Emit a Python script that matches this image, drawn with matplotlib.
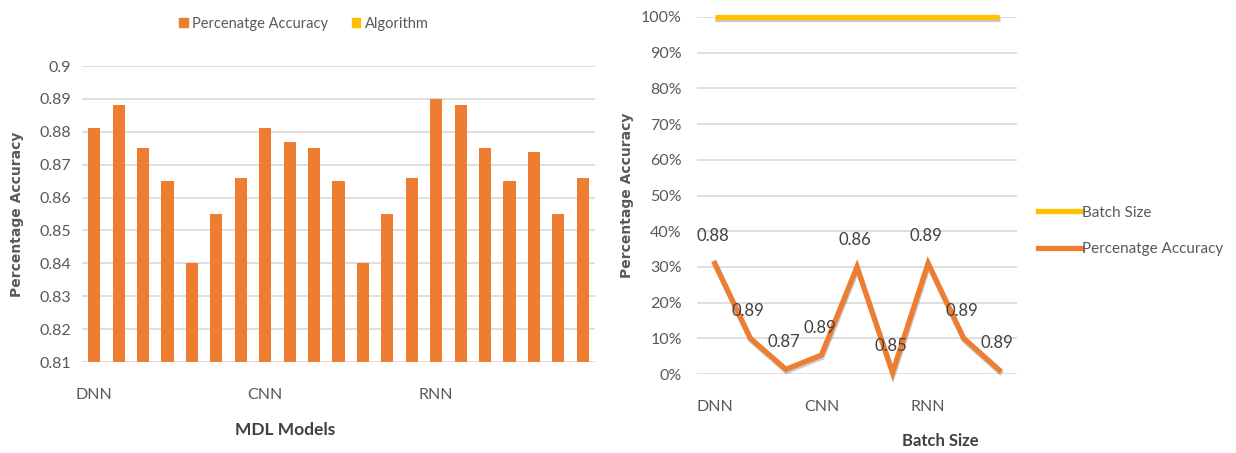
import matplotlib
matplotlib.use('Agg')
import matplotlib.pyplot as plt
import matplotlib.patheffects as pe
from matplotlib.patches import Patch
from matplotlib.lines import Line2D
from matplotlib.ticker import PercentFormatter

plt.rcParams['font.family'] = ['Lato', 'DejaVu Sans']

# left chart: accuracy per model run
bar_vals = [0.881, 0.888, 0.875, 0.865, 0.840, 0.855, 0.866,
            0.881, 0.877, 0.875, 0.865, 0.840, 0.855, 0.866,
            0.890, 0.888, 0.875, 0.865, 0.874, 0.855, 0.866]
model_labels = ['DNN', 'CNN', 'RNN']
model_pos = [0, 7, 14]

# right chart: line series
batch_vals = [1.0] * 9
acc_vals = [0.31, 0.10, 0.013, 0.053, 0.30, 0.004, 0.31, 0.10, 0.011]
acc_labels = ['0.88', '0.89', '0.87', '0.89', '0.86', '0.85', '0.89', '0.89', '0.89']
line_labels = ['DNN', 'CNN', 'RNN']
line_pos = [0, 3, 6]

orange = '#ED7D31'
yellow = '#FFC000'
grey = '#595959'
grid = '#D9D9D9'

fig = plt.figure(figsize=(12.36, 4.53), dpi=100)

# ---- left bar chart
ax1 = fig.add_axes([82/1236, 1-362/453, 513/1236, 296/453])
xs = list(range(len(bar_vals)))
ax1.bar(xs, bar_vals, width=0.5, color=orange, zorder=3)
ax1.set_ylim(0.81, 0.9)
ax1.set_xlim(-0.5, len(bar_vals) - 0.5)
ax1.set_yticks([0.81 + 0.01*i for i in range(10)])
ax1.set_yticklabels(['0.81', '0.82', '0.83', '0.84', '0.85', '0.86', '0.87', '0.88', '0.89', '0.9'])
ax1.set_xticks(model_pos)
ax1.set_xticklabels(model_labels)
ax1.yaxis.grid(True, color=grid, lw=1.2, zorder=0)
for s in ax1.spines.values():
    s.set_visible(False)
ax1.tick_params(axis='both', length=0, labelsize=11.5, labelcolor=grey)
ax1.tick_params(axis='x', pad=19)
ax1.tick_params(axis='y', pad=8)
fig.text(17/1236, 1-214/453, 'Percentage Accuracy', rotation=90, ha='center', va='center',
         fontsize=10, fontweight='bold', color=grey, family='DejaVu Sans')
fig.text(285/1236, 1-430/453, 'MDL Models', ha='center', va='center',
         fontsize=12.5, fontweight='bold', color='#404040')
fig.legend(handles=[Patch(color=orange, label='Percenatge Accuracy'),
                    Patch(color=yellow, label='Algorithm')],
           loc='center', bbox_to_anchor=(304/1236, 1-24/453), ncol=2, frameon=False,
           handlelength=0.6, handleheight=0.6, handletextpad=0.3, columnspacing=1.6,
           fontsize=10.5, labelcolor=grey)

# ---- right line chart
ax2 = fig.add_axes([697/1236, 1-374/453, 320/1236, 357/453])
lx = list(range(len(acc_vals)))
shadow = [pe.SimpleLineShadow(offset=(0.5, -1.5), shadow_color='#44546A', alpha=0.3), pe.Normal()]
ax2.plot(lx, batch_vals, color=yellow, lw=3.8, solid_capstyle='butt', clip_on=False,
         zorder=4, path_effects=shadow)
ax2.plot(lx, acc_vals, color=orange, lw=3.8, solid_joinstyle='miter', clip_on=False,
         zorder=4, path_effects=shadow)
for x, y, t in zip(lx, acc_vals, acc_labels):
    ax2.annotate(t, (x, y), xytext=(-2, 27), textcoords='offset pixels', ha='center',
                 va='center', fontsize=12, color='#404040', zorder=5)
ax2.set_xlim(-0.5, len(acc_vals) - 0.5)
ax2.set_ylim(0, 1.0)
ax2.set_yticks([0.1*i for i in range(11)])
ax2.yaxis.set_major_formatter(PercentFormatter(1.0, decimals=0))
ax2.set_xticks(line_pos)
ax2.set_xticklabels(line_labels)
ax2.yaxis.grid(True, color=grid, lw=1.2, zorder=0)
for s in ax2.spines.values():
    s.set_visible(False)
ax2.tick_params(axis='both', length=0, labelsize=11.5, labelcolor=grey)
ax2.tick_params(axis='x', pad=19)
ax2.tick_params(axis='y', pad=11)
fig.text(627/1236, 1-195/453, 'Percentage Accuracy', rotation=90, ha='center', va='center',
         fontsize=10, fontweight='bold', color=grey, family='DejaVu Sans')
fig.text(940/1236, 1-441/453, 'Batch Size', ha='center', va='center',
         fontsize=12, fontweight='bold', color='#404040')
fig.legend(handles=[Line2D([], [], color=yellow, lw=3.8, label='Batch Size'),
                    Line2D([], [], color=orange, lw=3.8, label='Percenatge Accuracy')],
           loc='center left', bbox_to_anchor=(1024/1236, 1-231/453), frameon=False,
           handlelength=2.8, handletextpad=0.1, labelspacing=1.5, fontsize=11,
           labelcolor=grey)

fig.savefig('out.png', dpi=100)
